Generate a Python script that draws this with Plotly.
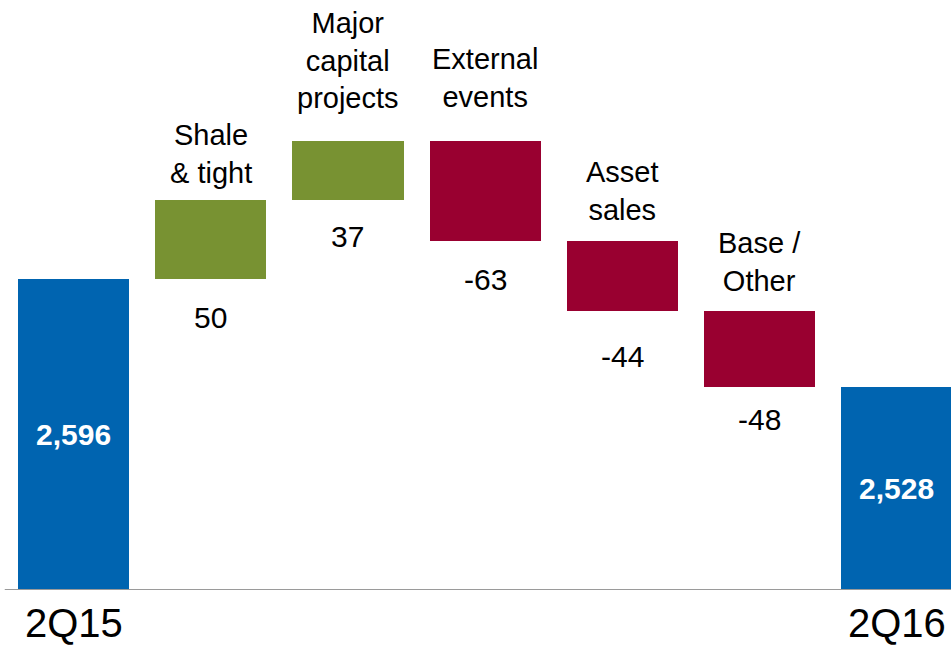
import plotly.graph_objects as go

# Production bridge, 2Q15 -> 2Q16 (thousand barrels of oil equivalent per day)
categories = ["2Q15", "Shale & tight", "Major capital projects", "External events",
              "Asset sales", "Base / Other", "2Q16"]
labels_above = ["", "Shale<br>& tight", "Major<br>capital<br>projects", "External<br>events",
                "Asset<br>sales", "Base /<br>Other", ""]
start_value = 2596
changes = [50, 37, -63, -44, -48]
end_value = 2528
axis_floor = 2400

BLUE = "#0064B0"
GREEN = "#789232"
RED = "#990030"
FONT = "Liberation Sans, Arial, sans-serif"

# running totals give the base of each step bar
bases, heights, colors = [0], [start_value], [BLUE]
running = start_value
for d in changes:
    bases.append(running if d >= 0 else running + d)
    heights.append(abs(d))
    colors.append(GREEN if d >= 0 else RED)
    running += d
bases.append(0)
heights.append(end_value)
colors.append(BLUE)

x_idx = list(range(len(categories)))

fig = go.Figure(go.Bar(
    x=x_idx, y=heights, base=bases, width=0.81,
    marker=dict(color=colors, line=dict(width=0)),
    hoverinfo="skip",
))

annotations = []
# totals: bold white value centred in the visible part of the bar
for i, v in [(0, start_value), (len(categories) - 1, end_value)]:
    annotations.append(dict(
        x=i, y=(axis_floor + v) / 2, xref="x", yref="y",
        text=f"<b>{v:,}</b>", showarrow=False,
        font=dict(family=FONT, size=30, color="white"),
    ))

# step bars: description above, value below
top_shift = [0, 9, 25, 26, 13, 12, 0]
bottom_shift = [0, -20, -18, -20, -27, -14, 0]
for k, d in enumerate(changes, start=1):
    top = bases[k] + heights[k]
    bottom = bases[k]
    annotations.append(dict(
        x=k, y=top, xref="x", yref="y", yanchor="bottom", yshift=top_shift[k],
        text=labels_above[k], showarrow=False, align="center",
        font=dict(family=FONT, size=29, color="black"),
    ))
    annotations.append(dict(
        x=k, y=bottom, xref="x", yref="y", yanchor="top", yshift=bottom_shift[k],
        text=f"{d}", showarrow=False,
        font=dict(family=FONT, size=30, color="black"),
    ))

# period labels under the baseline
for i in [0, len(categories) - 1]:
    annotations.append(dict(
        x=i, y=0, xref="x", yref="paper", yanchor="top", yshift=-10,
        text=categories[i], showarrow=False, borderpad=0,
        font=dict(family=FONT, size=40, color="black"),
    ))

fig.update_layout(
    width=951, height=646,
    margin=dict(l=0, r=0, t=0, b=56),
    plot_bgcolor="white", paper_bgcolor="white",
    showlegend=False,
    bargap=0,
    annotations=annotations,
    xaxis=dict(range=[-0.536, 6.395], showticklabels=False, showgrid=False,
               zeroline=False, showline=False, ticks=""),
    yaxis=dict(range=[axis_floor, 2771.8], showticklabels=False, showgrid=False,
               zeroline=False, showline=False, ticks=""),
    shapes=[dict(type="line", xref="paper", yref="y", x0=0.005, x1=1,
                 y0=axis_floor, y1=axis_floor, line=dict(color="#9a9a9a", width=2),
                 layer="above")],
)

fig.write_html("out.html")
